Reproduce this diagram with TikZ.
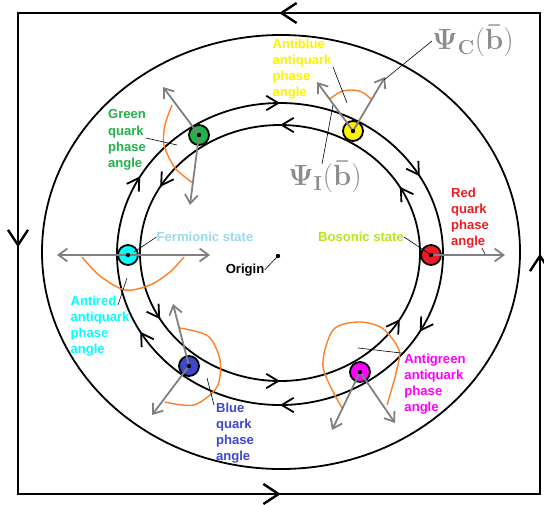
\documentclass[tikz,border=0pt]{standalone}
\usepackage[no-math]{fontspec}
\setmainfont{Liberation Sans}
\usepackage{xcolor}
\usetikzlibrary{arrows.meta}
\usetikzlibrary{decorations.markings}

\definecolor{qgreen}{HTML}{22B14C}
\definecolor{qyellow}{HTML}{FFF200}
\definecolor{qred}{HTML}{ED1C24}
\definecolor{qcyan}{HTML}{00FFFF}
\definecolor{qblue}{HTML}{3F48CC}
\definecolor{qmagenta}{HTML}{FF00FF}
\definecolor{boslime}{HTML}{B5E61D}
\definecolor{fermblue}{HTML}{99D9EA}
\definecolor{anglecol}{HTML}{FF7F27}
\definecolor{vecgray}{HTML}{808080}
\definecolor{psigray}{HTML}{8C8C8C}

\begin{document}
\begin{tikzpicture}[x=0.25mm, y=0.25mm,
    ring/.style={draw=black, line width=0.45mm},
    particle/.style={circle, draw=black, line width=0.45mm, minimum size=5mm, inner sep=0pt},
    vec/.style={draw=vecgray, line width=0.45mm, -{Straight Barb[length=2.2mm, width=3.2mm]}},
    anglearc/.style={draw=anglecol, line width=0.35mm},
    leader/.style={draw=black, line width=0.15mm},
    lbl/.style={font=\fontsize{9.3}{11.5}\selectfont\bfseries, align=left, inner sep=0pt},
    psilbl/.style={font=\fontsize{20}{22}\selectfont, text=psigray, inner sep=0pt},
    ccw/.style={postaction={decorate}, decoration={markings,
        mark=between positions 1/12 and 1 step 1/6 with {\arrow{Straight Barb[length=3mm, width=3.6mm]}}}},
    cw/.style={postaction={decorate}, decoration={markings,
        mark=between positions 1/12 and 1 step 1/6 with {\arrowreversed{Straight Barb[length=3mm, width=3.6mm]}}}},
    frame/.style={draw=black, line width=0.6mm, postaction={decorate}, decoration={markings,
        mark=at position 0.130 with {\arrow{Straight Barb[length=3.8mm, width=5mm]}},
        mark=at position 0.377 with {\arrow{Straight Barb[length=3.8mm, width=5mm]}},
        mark=at position 0.631 with {\arrow{Straight Barb[length=3.8mm, width=5mm]}},
        mark=at position 0.880 with {\arrow{Straight Barb[length=3.8mm, width=5mm]}}}}
]
\useasboundingbox (0,0) rectangle (544,-504);

\draw[frame] (540,-13) -- (18,-13) -- (18,-494) -- (540,-494) -- cycle;

\draw[ring] (281,-252) ellipse [x radius=239, y radius=217];
\draw[ring, cw] (280,-254) ellipse [x radius=163, y radius=151];
\draw[ring, ccw] (280,-253) ellipse [x radius=140, y radius=128];

\node[particle, fill=qgreen] (gq) at (199,-135) {};
\node[particle, fill=qyellow] (abq) at (353,-131) {};
\node[particle, fill=qred] (rq) at (431,-255) {};
\node[particle, fill=qcyan] (arq) at (128,-255) {};
\node[particle, fill=qblue] (bq) at (189,-366) {};
\node[particle, fill=qmagenta] (agq) at (360,-372) {};
\coordinate (origin) at (278,-256);

\draw[anglearc] plot[smooth] coordinates {(172,-105) (165,-125) (164,-145) (175,-168) (193,-183)};
\draw[anglearc] plot[smooth] coordinates {(330,-99) (340,-92) (351,-90) (362,-92) (371,-99)};
\draw[anglearc] plot[smooth] coordinates {(82,-257) (100,-276) (125,-290) (150,-285) (170,-272) (184,-257)};
\draw[anglearc] plot[smooth] coordinates {(180,-328) (208,-336) (220,-360) (217,-387) (194,-405) (165,-402)};
\draw[anglearc] plot[smooth] coordinates {(342,-408) (323,-367) (333,-330) (358,-322) (382,-328) (399,-350) (396,-373) (387,-405)};
\fill[anglecol] (485,-255) circle (1.3);

\draw[vec] (gq.center) -- ++(-36,48);
\draw[vec] (gq.center) -- ++(-9,-70);
\draw[vec] (abq.center) -- ++(-36,49);
\draw[vec] (abq.center) -- ++(32,54);
\draw[vec] (rq.center) -- ++(74,0);
\draw[vec] (arq.center) -- ++(-71,0);
\draw[vec] (arq.center) -- ++(82,0);
\draw[vec] (bq.center) -- ++(-16,62);
\draw[vec] (bq.center) -- ++(-37,-49);
\draw[vec] (agq.center) -- ++(-28,-58);
\draw[vec] (agq.center) -- ++(35,-51);

\foreach \p in {gq,abq,rq,arq,bq,agq,origin}
    \fill (\p) circle (2.2);

\node[lbl, text=qgreen] (gqlbl) at (127,-140) {Green\\quark\\phase\\angle};
\node[lbl, text=qyellow] (abqlbl) at (302,-69) {Antiblue\\antiquark\\phase\\angle};
\node[lbl, text=qred] (rqlbl) at (470,-218) {Red\\quark\\phase\\angle};
\node[lbl, text=qcyan] (arqlbl) at (100,-326) {Antired\\antiquark\\phase\\angle};
\node[lbl, text=qblue] (bqlbl) at (235,-433) {Blue\\quark\\phase\\angle};
\node[lbl, text=qmagenta] (agqlbl) at (435,-384) {Antigreen\\antiquark\\phase\\angle};
\node[lbl, text=boslime] (boslbl) at (361,-237) {Bosonic state};
\node[lbl, text=fermblue] (fermlbl) at (205,-237) {Fermionic state};
\node[lbl] (originlbl) at (245,-270) {Origin};
\node[psilbl] (psic) at (473,-41) {$\mathbf{\Psi_{C}(\bar{b})}$};
\node[psilbl] (psii) at (325,-177) {$\mathbf{\Psi_{I}(\bar{b})}$};

\coordinate (gqang) at (177,-145);
\coordinate (abqang) at (347,-103);
\coordinate (psicend) at (384,-80);
\coordinate (psiiend) at (333,-105);
\coordinate (rqang) at (485,-254);
\coordinate (arqang) at (127,-278);
\coordinate (bqang) at (207,-378);
\coordinate (agqang) at (358,-348);
\coordinate (fermend) at (134,-252);

\draw[leader] (146,-138) -- (gqang);
\draw[leader] (333,-67) -- (abqang);
\draw[leader] (psic.west) -- (psicend);
\draw[leader] (322,-164) -- (psiiend);
\draw[leader] (482,-248) -- (rqang);
\draw[leader] (boslbl.east) -- (rq.center);
\draw[leader] (fermlbl.west) -- (fermend);
\draw[leader] (originlbl.east) -- (origin);
\draw[leader] (118,-305) -- (arqang);
\draw[leader] (214,-405) -- (bqang);
\draw[leader] (agqlbl.north west) -- (agqang);
\end{tikzpicture}
\end{document}
